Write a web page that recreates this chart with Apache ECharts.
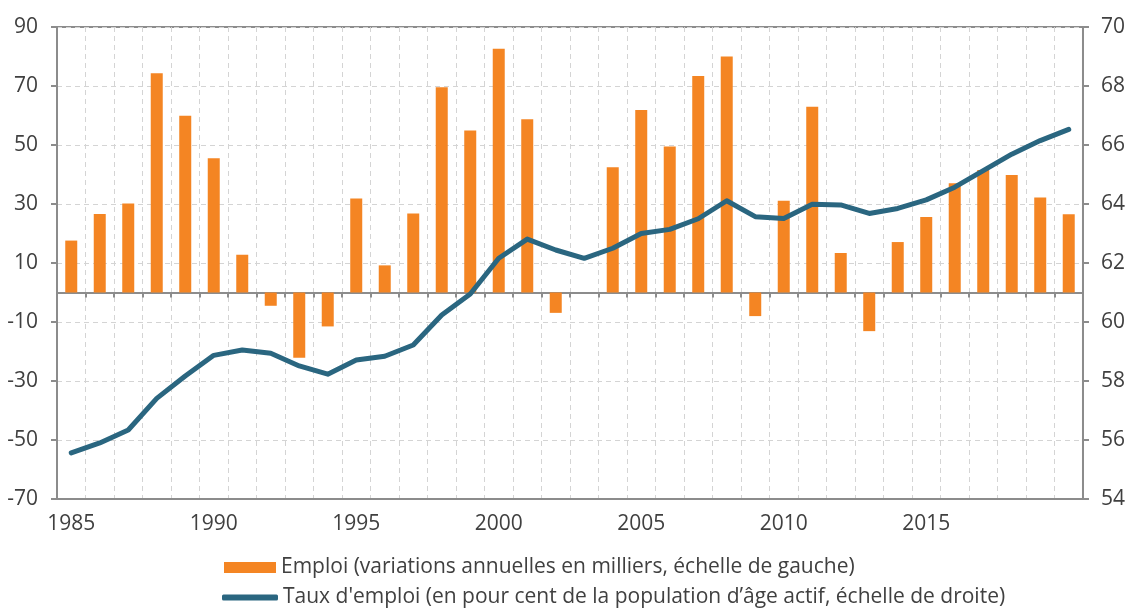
<!DOCTYPE html>
<html>
<head>
<meta charset="utf-8">
<script src="https://cdn.jsdelivr.net/npm/echarts@6/dist/echarts.min.js"></script>
<style>
  html, body { margin: 0; padding: 0; background: #ffffff; }
  #chart { width: 1128px; height: 608px; }
</style>
</head>
<body>
<div id="chart"></div>
<script>
// années
const years = [];
for (let y = 1985; y <= 2020; y++) years.push(String(y));

// Emploi : variations annuelles en milliers (échelle de gauche)
const emploi = [17.6, 26.6, 30.2, 74.3, 59.9, 45.5, 12.8, -4.5, -22.1, -11.5,
  31.9, 9.2, 26.8, 69.6, 54.9, 82.6, 58.7, -6.9, 0, 42.5,
  61.9, 49.5, 73.4, 80.0, -8.0, 31.1, 63.0, 13.4, -13.1, 17.1,
  25.6, 37.0, 41.5, 39.8, 32.2, 26.5];

// Taux d'emploi en % (échelle de droite)
const tauxEmploi = [55.56, 55.9, 56.34, 57.41, 58.17, 58.87, 59.05, 58.94, 58.51, 58.23,
  58.71, 58.84, 59.22, 60.24, 60.95, 62.16, 62.81, 62.44, 62.16, 62.5,
  63.0, 63.14, 63.5, 64.11, 63.57, 63.51, 63.99, 63.97, 63.68, 63.85,
  64.14, 64.57, 65.13, 65.69, 66.15, 66.53];

const tickYears = ['1985', '1990', '1995', '2000', '2005', '2010', '2015'];

const nomEmploi = 'Emploi (variations annuelles en milliers, échelle de gauche)';
const nomTaux = "Taux d'emploi (en pour cent de la population d’âge actif, échelle de droite)";

const axisGray = '#8c8c8c';
const textColor = '#404040';
const font = 'Open Sans';
const fs = 21;

const chart = echarts.init(document.getElementById('chart'));

const legendText = { fontFamily: font, fontSize: 21, color: textColor };

const option = {
  backgroundColor: '#ffffff',
  animation: false,
  textStyle: { fontFamily: font },
  grid: {
    left: 57, right: 43, top: 27, bottom: 109,
    show: true, borderColor: axisGray, borderWidth: 2, backgroundColor: 'transparent'
  },
  legend: [
    {
      left: 219, top: 552,
      itemWidth: 52, itemHeight: 11,
      textStyle: legendText,
      data: [{ name: nomEmploi, icon: 'rect' }]
    },
    {
      left: 217, top: 582,
      itemWidth: 56, itemHeight: 6,
      textStyle: legendText,
      data: [{ name: nomTaux, icon: 'roundRect' }]
    }
  ],
  xAxis: [
    {
      type: 'category',
      data: years,
      position: 'bottom',
      axisLine: { show: true, onZero: false, lineStyle: { color: axisGray, width: 2 } },
      axisTick: { show: false },
      axisLabel: {
        interval: (idx, val) => tickYears.includes(val),
        color: textColor, fontSize: fs, fontFamily: font, margin: 15
      },
      splitLine: {
        show: true, interval: 0,
        lineStyle: { color: '#d4d4d4', type: [5, 4], width: 1 }
      }
    },
    {
      type: 'category',
      data: years,
      position: 'bottom',
      axisLine: { show: true, onZero: true, onZeroAxisIndex: 0, lineStyle: { color: axisGray, width: 2 } },
      axisTick: { show: true, interval: 0, length: 5, lineStyle: { color: axisGray, width: 2 } },
      axisLabel: { show: false },
      splitLine: { show: false }
    }
  ],
  yAxis: [
    {
      type: 'value',
      min: -70, max: 90, interval: 20,
      axisLine: { show: true, lineStyle: { color: axisGray, width: 2 } },
      axisTick: { show: true, length: 6, lineStyle: { color: axisGray, width: 2 } },
      axisLabel: { color: textColor, fontSize: fs, fontFamily: font, margin: 19 },
      splitLine: { show: true, lineStyle: { color: '#d4d4d4', type: [5, 4], width: 1 } }
    },
    {
      type: 'value',
      min: 54, max: 70, interval: 2,
      position: 'right',
      axisLine: { show: true, lineStyle: { color: axisGray, width: 2 } },
      axisTick: { show: true, length: 6, lineStyle: { color: axisGray, width: 2 } },
      axisLabel: { color: textColor, fontSize: fs, fontFamily: font, margin: 18 },
      splitLine: { show: false }
    }
  ],
  series: [
    {
      name: nomEmploi,
      type: 'bar',
      xAxisIndex: 0,
      yAxisIndex: 0,
      data: emploi,
      barWidth: 12,
      itemStyle: { color: '#f48523' },
      z: 2
    },
    {
      name: nomTaux,
      type: 'line',
      xAxisIndex: 0,
      yAxisIndex: 1,
      data: tauxEmploi,
      symbol: 'none',
      lineStyle: { color: '#2a6680', width: 5, cap: 'round', join: 'round' },
      itemStyle: { color: '#2a6680' },
      z: 4
    }
  ]
};

chart.setOption(option);
</script>
</body>
</html>
